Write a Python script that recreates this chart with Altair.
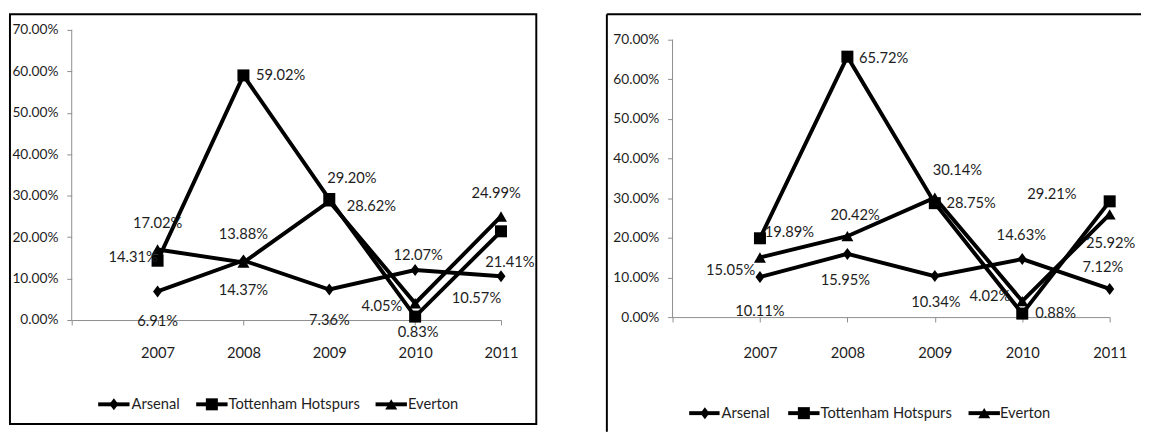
import altair as alt
import pandas as pd

# ---------------- data ----------------
YEARS = [2007, 2008, 2009, 2010, 2011]
SERIES = ["Arsenal", "Tottenham Hotspurs", "Everton"]

LEFT_ARSENAL = [6.91, 14.37, 7.36, 12.07, 10.57]
LEFT_TOTTENHAM = [14.31, 59.02, 29.20, 0.83, 21.41]
LEFT_EVERTON = [17.02, 13.88, 28.62, 4.05, 24.99]

RIGHT_ARSENAL = [10.11, 15.95, 10.34, 14.63, 7.12]
RIGHT_TOTTENHAM = [19.89, 65.72, 28.75, 0.88, 29.21]
RIGHT_EVERTON = [15.05, 20.42, 30.14, 4.02, 25.92]

X_TICKS = [2006, 2007, 2008, 2009, 2010, 2011]
Y_TICKS = [0, 10, 20, 30, 40, 50, 60, 70]
Y_MAX = 70

# ---------------- layout / style (not data) ----------------
# label placement (dx, dy) in pixels, per series, per year
LEFT_LABEL_OFFSETS = {
    "Arsenal": [(0, 30), (0, 30), (0, 31), (3, -15), (-25, 22)],
    "Tottenham Hotspurs": [(-25, -4), (38, 0), (23, -21), (3, 16), (9, 31)],
    "Everton": [(0, -27), (0, -29), (43, 5), (-34, 3), (-5, -24)],
}
RIGHT_LABEL_OFFSETS = {
    "Arsenal": [(0, 35), (-2, 27), (1, 26), (-1, -25), (-7, -22)],
    "Tottenham Hotspurs": [(30, -6), (37, 1), (37, 0), (34, -1), (-59, -7)],
    "Everton": [(-30, 13), (8, -22), (23, -28), (-33, -5), (1, 29)],
}

FONT = "Lato, DejaVu Sans Condensed, sans-serif"
INK = "#1e1e1e"
AXIS_GREY = "#8c8c8c"
DIAMOND = "M0,-1L0.75,0L0,1L-0.75,0Z"
SHAPES = [DIAMOND, "square", "triangle-up"]
MARK_SIZE = 150
FS = 15
FS_Y = 14
LINE_W = 4


def make_df(series_values):
    rows = []
    for s, vals in zip(SERIES, series_values):
        for yr, v in zip(YEARS, vals):
            rows.append({"series": s, "year": yr, "value": v})
    return pd.DataFrame(rows)


def panel(series_values, offsets, width, height, y_top, xlabel_pad, legend_items, legend_y, frame):
    df = make_df(series_values)
    base = alt.Chart(df).transform_calculate(label="format(datum.value, '.2f') + '%'")

    x = alt.X(
        "year:Q",
        scale=alt.Scale(domain=[X_TICKS[0], X_TICKS[-1]], nice=False, zero=False),
        axis=alt.Axis(
            values=X_TICKS,
            labelExpr="datum.value == 2006 ? '' : format(datum.value, 'd')",
            title=None, grid=False, tickSize=5, labelPadding=xlabel_pad,
            labelFlush=False, labelOverlap=False,
            domainColor=AXIS_GREY, tickColor=AXIS_GREY, labelColor=INK,
            labelFontSize=FS, labelFont=FONT,
        ),
    )
    y = alt.Y(
        "value:Q",
        scale=alt.Scale(domain=[0, y_top], nice=False),
        axis=alt.Axis(
            values=Y_TICKS, domain=False,
            labelExpr="format(datum.value, '.2f') + '%'",
            title=None, grid=False, tickSize=5, labelPadding=9,
            tickColor=AXIS_GREY, labelColor=INK,
            labelFontSize=FS_Y, labelFont=FONT,
        ),
    )

    layers = list(frame)
    # y axis line from 0 to 70 %
    layers.append(
        alt.Chart(pd.DataFrame({"k": [1]})).mark_rule(color=AXIS_GREY, strokeWidth=1).encode(
            x=alt.datum(X_TICKS[0]), y=alt.datum(0), y2=alt.datum(Y_MAX),
        )
    )
    layers.append(
        base.mark_line(color="black", strokeWidth=LINE_W).encode(
            x=x, y=y, detail="series:N", order="year:Q"
        )
    )
    layers.append(
        base.mark_point(filled=True, opacity=1, color="black", size=MARK_SIZE).encode(
            x=x, y=y,
            shape=alt.Shape("series:N", scale=alt.Scale(domain=SERIES, range=SHAPES), legend=None),
        )
    )
    for s in SERIES:
        for i, yr in enumerate(YEARS):
            dx, dy = offsets[s][i]
            layers.append(
                base.transform_filter(f"datum.series == '{s}' && datum.year == {yr}")
                .mark_text(dx=dx, dy=dy, align="center", baseline="middle",
                           fontSize=FS, font=FONT, color=INK)
                .encode(x=x, y=y, text="label:N")
            )

    legend_df = pd.DataFrame({"series": SERIES})
    for i, s in enumerate(SERIES):
        x0, x1, xm, xt = legend_items[i]
        lc = alt.Chart(legend_df).transform_filter(f"datum.series == '{s}'")
        layers.append(
            lc.mark_rule(color="black", strokeWidth=LINE_W).encode(
                x=alt.value(x0), x2=alt.value(x1), y=alt.value(legend_y)
            )
        )
        layers.append(
            lc.mark_point(filled=True, opacity=1, color="black", size=MARK_SIZE, shape=SHAPES[i]).encode(
                x=alt.value(xm), y=alt.value(legend_y)
            )
        )
        layers.append(
            lc.mark_text(align="left", baseline="middle", fontSize=FS, font=FONT, color=INK).encode(
                x=alt.value(xt), y=alt.value(legend_y), text="series:N"
            )
        )

    return alt.layer(*layers).properties(width=width, height=height)


one = pd.DataFrame({"k": [1]})

left_frame = [
    alt.Chart(one).mark_rect(fill="transparent", stroke="black", strokeWidth=2).encode(
        x=alt.value(-63), x2=alt.value(474), y=alt.value(-16), y2=alt.value(402)
    )
]
right_frame = [
    alt.Chart(one).mark_rule(color="black", strokeWidth=2).encode(
        x=alt.value(-67), y=alt.value(-16), y2=alt.value(410)
    ),
    alt.Chart(one).mark_rule(color="black", strokeWidth=2).encode(
        x=alt.value(-67), x2=alt.value(478), y=alt.value(-16)
    ),
]

left = panel(
    [LEFT_ARSENAL, LEFT_TOTTENHAM, LEFT_EVERTON], LEFT_LABEL_OFFSETS,
    438, 296, Y_MAX, 21,
    [(27, 59, 43, 61), (127, 159, 143, 160), (310, 342, 326, 343)], 382,
    left_frame,
)
# right panel: plot box starts 10 px above its 70 % line
right = panel(
    [RIGHT_ARSENAL, RIGHT_TOTTENHAM, RIGHT_EVERTON], RIGHT_LABEL_OFFSETS,
    446, 293, 72.47, 24,
    [(17, 48, 33, 50), (118, 150, 134, 151), (302, 334, 318, 334)], 391,
    right_frame,
)

chart = (
    alt.hconcat(left, right, spacing=68, padding=0)
    .configure(font=FONT)
    .configure_view(stroke="transparent")
)

chart.save("out.html", embed_options={"renderer": "svg", "actions": False})
